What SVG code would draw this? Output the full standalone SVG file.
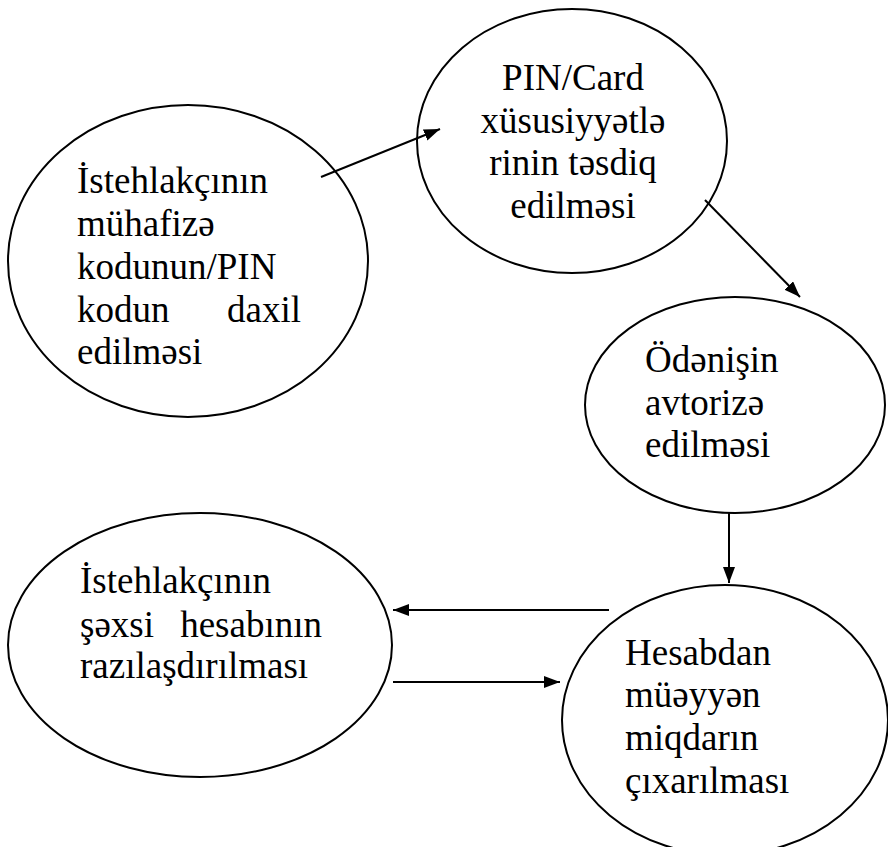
<svg xmlns="http://www.w3.org/2000/svg" width="888" height="847" viewBox="0 0 888 847">
<style>
.n{fill:none;stroke:#000;stroke-width:2}
.t{font-family:"Liberation Serif","Times New Roman",serif;font-size:37px;fill:#000}
.c{stroke:#000;stroke-width:2;fill:none}
</style>
<defs>
<marker id="ah" viewBox="0 0 16 12" refX="16" refY="6" markerWidth="16" markerHeight="12" markerUnits="userSpaceOnUse" orient="auto">
<path d="M0,0 L16,6 L0,12 z" fill="#000"/>
</marker>
</defs>
<rect width="888" height="847" fill="#fff"/>
<g id="n1">
<ellipse class="n" cx="188" cy="261" rx="180" ry="156"/>
<text class="t" x="77" y="193">İstehlakçının</text>
<text class="t" x="77" y="236">mühafizə</text>
<text class="t" x="77" y="279">kodunun/PIN</text>
<text class="t" x="77" y="322">kodun</text>
<text class="t" x="301" y="322" text-anchor="end">daxil</text>
<text class="t" x="77" y="364">edilməsi</text>
</g>
<g id="n2">
<ellipse class="n" cx="572" cy="141" rx="155" ry="132"/>
<text class="t" x="573" y="90" text-anchor="middle">PIN/Card</text>
<text class="t" x="573" y="133" text-anchor="middle">xüsusiyyətlə</text>
<text class="t" x="573" y="175" text-anchor="middle">rinin təsdiq</text>
<text class="t" x="573" y="218" text-anchor="middle">edilməsi</text>
</g>
<g id="n3">
<ellipse class="n" cx="735" cy="405" rx="150" ry="108"/>
<text class="t" x="645" y="372">Ödənişin</text>
<text class="t" x="645" y="415">avtorizə</text>
<text class="t" x="645" y="457">edilməsi</text>
</g>
<g id="n4">
<ellipse class="n" cx="200" cy="645" rx="192" ry="132"/>
<text class="t" x="80" y="593">İstehlakçının</text>
<text class="t" x="80" y="637">şəxsi</text>
<text class="t" x="322" y="637" text-anchor="end">hesabının</text>
<text class="t" x="80" y="678">razılaşdırılması</text>
</g>
<g id="n5">
<ellipse class="n" cx="725" cy="720" rx="163" ry="135"/>
<text class="t" x="625" y="665">Hesabdan</text>
<text class="t" x="625" y="707">müəyyən</text>
<text class="t" x="625" y="750">miqdarın</text>
<text class="t" x="625" y="793">çıxarılması</text>
</g>
<g id="connectors">
<line class="c" x1="321" y1="177" x2="440" y2="129" marker-end="url(#ah)"/>
<line class="c" x1="705" y1="200" x2="800" y2="297" marker-end="url(#ah)"/>
<line class="c" x1="729" y1="513" x2="729" y2="583" marker-end="url(#ah)"/>
<line class="c" x1="609" y1="610" x2="393" y2="610" marker-end="url(#ah)"/>
<line class="c" x1="393" y1="682" x2="560" y2="682" marker-end="url(#ah)"/>
</g>
</svg>
